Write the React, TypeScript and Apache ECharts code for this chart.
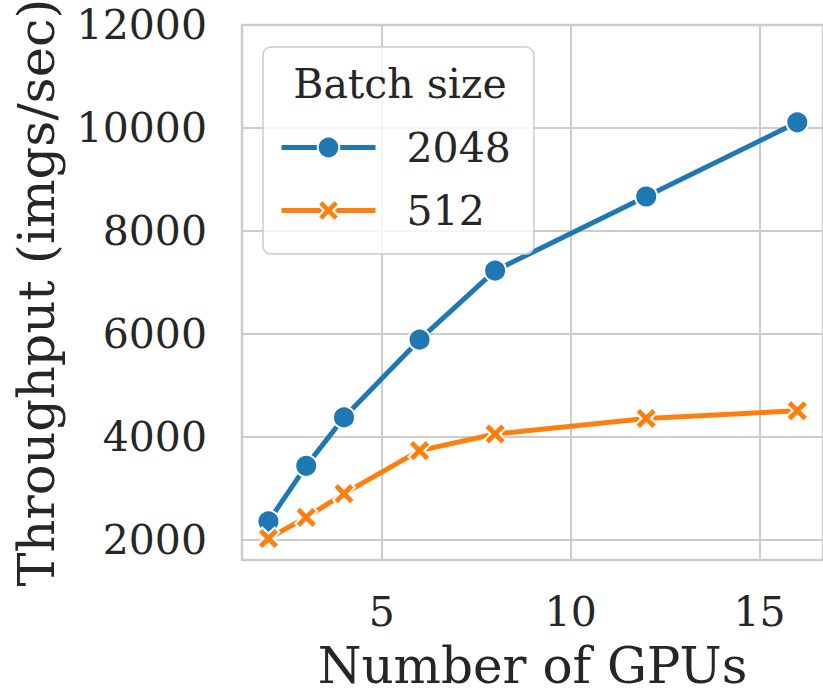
import React, { useEffect, useRef } from "react";
import * as echarts from "echarts";

const gpus = [2, 3, 4, 6, 8, 12, 16];
const batch2048 = [2360, 3440, 4380, 5890, 7230, 8670, 10110];
const batch512 = [2030, 2440, 2900, 3735, 4058, 4360, 4510];
const seriesNames = ["2048", "512"];
const legendTitle = "Batch size";
const xName = "Number of GPUs";
const yName = "Throughput (imgs/sec)";

const FONT = "DejaVu Serif";
const TXT = "#262626";
const GRID = "#cccccc";
const XSYM =
  "path://M0,2.2 L2.2,0 L5,2.8 L7.8,0 L10,2.2 L7.2,5 L10,7.8 L7.8,10 L5,7.2 L2.2,10 L0,7.8 L2.8,5 Z";

export default function App() {
  const ref = useRef<HTMLDivElement>(null);
  useEffect(() => {
    if (!ref.current) return;
    const chart = echarts.init(ref.current, undefined, { renderer: "svg" });
    const toPairs = (ys: number[]) => gpus.map((g, i) => [g, ys[i]]);
    chart.setOption({
      animation: false,
      backgroundColor: "#ffffff",
      textStyle: { fontFamily: FONT, color: TXT },
      grid: {
        left: 242,
        right: 0,
        top: 25,
        bottom: 136,
        containLabel: false,
        outerBoundsMode: "none",
        show: true,
        borderColor: GRID,
        borderWidth: 2.5,
        backgroundColor: "transparent",
      },
      xAxis: {
        type: "value",
        min: 1.3,
        max: 16.68,
        splitNumber: 3,
        minInterval: 5,
        maxInterval: 5,
        name: xName,
        nameLocation: "middle",
        nameGap: 84,
        nameTextStyle: { fontFamily: FONT, fontSize: 50, lineHeight: 44, color: TXT },
        axisLine: { show: false },
        axisTick: { show: false },
        axisLabel: {
          fontFamily: FONT,
          fontSize: 41,
          color: TXT,
          margin: 31,
          showMinLabel: false,
          showMaxLabel: false,
          formatter: (v: number) => String(v),
        },
        splitLine: { show: true, lineStyle: { color: GRID, width: 2 } },
      },
      yAxis: {
        type: "value",
        min: 1612,
        max: 12000,
        splitNumber: 5,
        minInterval: 2000,
        maxInterval: 2000,
        name: yName,
        nameLocation: "middle",
        nameGap: 180,
        nameTextStyle: { fontFamily: FONT, fontSize: 51, lineHeight: 51, color: TXT },
        axisLine: { show: false },
        axisTick: { show: false },
        axisLabel: {
          fontFamily: FONT,
          fontSize: 41,
          color: TXT,
          margin: 35,
          showMinLabel: false,
          formatter: (v: number) => String(v),
        },
        splitLine: { show: true, lineStyle: { color: GRID, width: 2 } },
      },
      legend: {
        data: seriesNames,
        orient: "vertical",
        left: 263,
        top: 47,
        padding: [80, 23, 23, 16],
        itemWidth: 94,
        itemHeight: 27,
        itemGap: 22,
        backgroundColor: "rgba(255,255,255,0.8)",
        borderColor: GRID,
        borderWidth: 1.5,
        borderRadius: 8,
        lineStyle: { width: 5 },
        textStyle: {
          fontFamily: FONT,
          fontSize: 41,
          color: TXT,
          lineHeight: 22,
          padding: [0, 0, 0, 26],
        },
        selectedMode: false,
      },
      graphic: [
        {
          type: "text",
          x: 400,
          y: 84,
          z: 100,
          style: {
            text: legendTitle,
            fontFamily: FONT,
            fontSize: 41,
            fill: TXT,
            textAlign: "center",
            textVerticalAlign: "middle",
          },
        },
      ],
      series: [
        {
          name: seriesNames[0],
          type: "line",
          data: toPairs(batch2048),
          symbol: "circle",
          symbolSize: 22,
          showAllSymbol: true,
          z: 2,
          lineStyle: { color: "#1f77b4", width: 5 },
          itemStyle: { color: "#1f77b4", borderColor: "#ffffff", borderWidth: 2 },
        },
        {
          name: seriesNames[1],
          type: "line",
          data: toPairs(batch512),
          symbol: XSYM,
          symbolSize: 22,
          showAllSymbol: true,
          z: 3,
          lineStyle: { color: "#ff7f0e", width: 5 },
          itemStyle: { color: "#ff7f0e", borderColor: "#ffffff", borderWidth: 2 },
        },
      ],
    });
    return () => chart.dispose();
  }, []);
  return (
    <div
      ref={ref}
      style={{ position: "absolute", left: 0, top: 0, width: 823, height: 696 }}
    />
  );
}
